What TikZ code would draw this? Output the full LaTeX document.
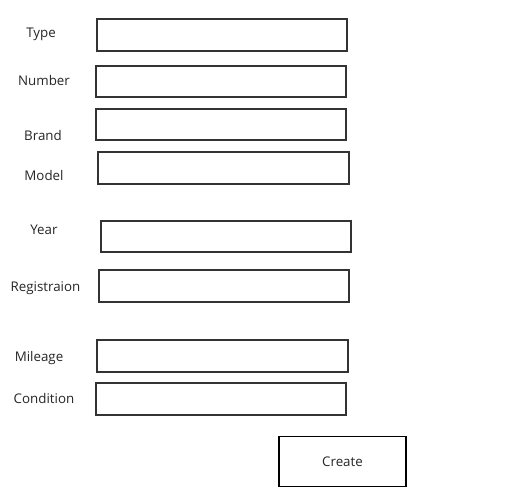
\documentclass[tikz,border=0pt]{standalone}
\usepackage{fontspec}
\setmainfont{Open Sans}
\begin{document}
\begin{tikzpicture}[x=0.75pt,y=-0.75pt,
  field/.style={draw=black!80,line width=0.8pt},
  lbl/.style={font=\fontsize{10}{12}\selectfont,text=black!85,inner sep=0pt},
  btn/.style={draw=black,line width=0.8pt,font=\fontsize{10}{12}\selectfont,text=black!85}]
\useasboundingbox (0,0) rectangle (510,503);
\fill[white] (0,0) rectangle (510,503);
\draw[field] (97,19) rectangle (347,51) coordinate (f1);
\draw[field] (96,66) rectangle (346,97) coordinate (f2);
\draw[field] (96,109) rectangle (346,140) coordinate (f3);
\draw[field] (98,152) rectangle (349,184) coordinate (f4);
\draw[field] (101,221) rectangle (351,252) coordinate (f5);
\draw[field] (99,270) rectangle (349,302) coordinate (f6);
\draw[field] (97,340) rectangle (348,372) coordinate (f7);
\draw[field] (96,383) rectangle (346,415) coordinate (f8);
\node[lbl] (l1) at (41,34) {Type};
\node[lbl] (l2) at (44,80) {Number};
\node[lbl] (l3) at (43,135) {Brand};
\node[lbl] (l4) at (44,175) {Model};
\node[lbl] (l5) at (44,230) {Year};
\node[lbl] (l6) at (45.5,288) {Registraion};
\node[lbl] (l7) at (39,358) {Mileage};
\node[lbl] (l8) at (44,398) {Condition};
\node[btn,minimum width=127*0.75pt,minimum height=50*0.75pt,inner sep=0pt] (create) at (342.5,461.5) {Create};
\end{tikzpicture}
\end{document}
